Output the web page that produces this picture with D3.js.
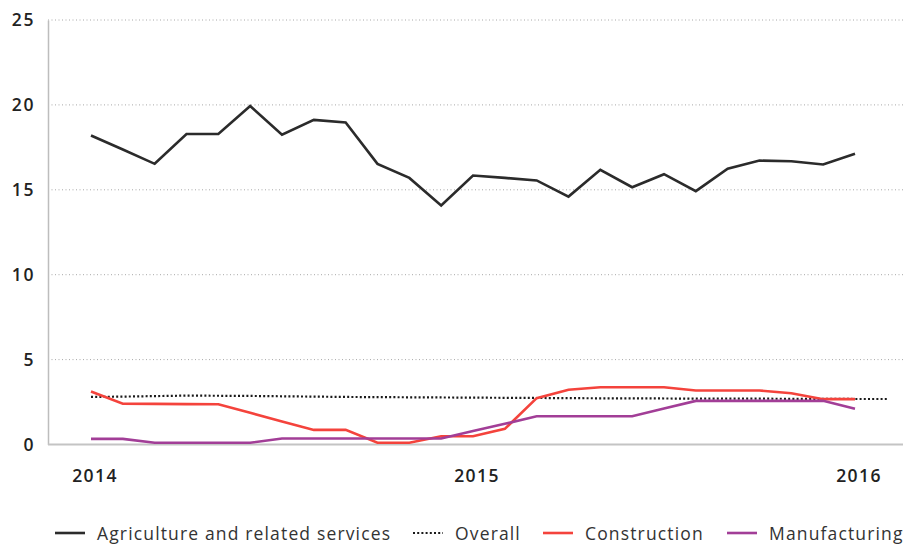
<!DOCTYPE html>
<html>
<head>
<meta charset="utf-8">
<script src="https://cdn.jsdelivr.net/npm/d3@7"></script>
<style>
  body { margin: 0; background: #fff; }
  svg { display: block; font-family: "Open Sans", "Noto Sans", sans-serif; }
</style>
</head>
<body>
<svg id="chart" width="903" height="545"></svg>
<script>
// monthly points, Jan 2014 .. Jan 2016 (index 0..24)
const yearLabels = [
    { k: 0, label: "2014" },
    { k: 12, label: "2015" },
    { k: 24, label: "2016" }
];
const yTicks = [0, 5, 10, 15, 20, 25];

const agriculture = [18.2, 17.37, 16.53, 18.29, 18.29, 19.94, 18.24, 19.12, 18.96, 16.53, 15.7, 14.08,
    15.84, 15.7, 15.55, 14.6, 16.18, 15.15, 15.92, 14.92, 16.24, 16.72, 16.68, 16.49, 17.12];
const overall = [2.8, 2.82, 2.85, 2.88, 2.87, 2.86, 2.84, 2.82, 2.8, 2.79, 2.78, 2.77,
    2.76, 2.75, 2.74, 2.73, 2.72, 2.72, 2.71, 2.7, 2.7, 2.7, 2.69, 2.69, 2.68, 2.68];
const construction = [3.12, 2.4, 2.39, 2.38, 2.37, 1.87, 1.36, 0.86, 0.86, 0.1, 0.1, 0.49,
    0.49, 0.92, 2.73, 3.22, 3.37, 3.37, 3.37, 3.18, 3.18, 3.18, 3.02, 2.67, 2.67];
const manufacturing = [0.33, 0.33, 0.1, 0.1, 0.1, 0.1, 0.35, 0.35, 0.35, 0.35, 0.35, 0.35,
    0.79, 1.22, 1.66, 1.66, 1.66, 1.66, 2.12, 2.57, 2.57, 2.57, 2.57, 2.57, 2.1];

const series = [
    { name: "Agriculture and related services", values: agriculture, color: "#2b2b2b", dash: null },
    { name: "Overall", values: overall, color: "#1a1a1a", dash: "2,2.2" },
    { name: "Construction", values: construction, color: "#f4433c", dash: null },
    { name: "Manufacturing", values: manufacturing, color: "#a23e97", dash: null }
];

const svg = d3.select("#chart");
const plotLeft = 48, plotRight = 903, plotTop = 20, plotBottom = 444.5;

const x = d3.scaleLinear().domain([0, 24]).range([91, 855]);
const y = d3.scaleLinear().domain([0, 25]).range([plotBottom, plotTop]);

// gridlines (dotted)
svg.append("g")
    .selectAll("line")
    .data(yTicks.filter(d => d > 0))
    .join("line")
    .attr("x1", plotLeft).attr("x2", plotRight)
    .attr("y1", d => y(d)).attr("y2", d => y(d))
    .attr("stroke", "#a8a8a8")
    .attr("stroke-width", 1)
    .attr("stroke-dasharray", "1,2.5");

// y axis
const yAxis = svg.append("g")
    .attr("transform", `translate(${plotLeft},0)`)
    .call(d3.axisLeft(y).tickValues(yTicks).tickSize(0).tickPadding(13));
yAxis.select(".domain").attr("stroke", "#bdbdbd").attr("stroke-width", 1.5);
yAxis.selectAll("text")
    .attr("font-size", 17.5).attr("font-weight", 600).attr("fill", "#222")
    .attr("letter-spacing", 1.6)
    .attr("font-family", "'Open Sans', sans-serif");

// bottom line
svg.append("line")
    .attr("x1", plotLeft).attr("x2", plotRight)
    .attr("y1", y(0)).attr("y2", y(0))
    .attr("stroke", "#c4c4c4").attr("stroke-width", 2);

// year labels
svg.append("g")
    .selectAll("text")
    .data(yearLabels)
    .join("text")
    .attr("x", d => x(d.k) + 4)
    .attr("y", 482)
    .attr("text-anchor", "middle")
    .attr("font-size", 17.5).attr("font-weight", 600).attr("fill", "#222")
    .attr("letter-spacing", 1.4)
    .text(d => d.label);

// lines
const line = d3.line()
    .x((d, i) => x(i))
    .y(d => y(d));

svg.append("g")
    .selectAll("path")
    .data(series)
    .join("path")
    .attr("d", d => line(d.values))
    .attr("fill", "none")
    .attr("stroke", d => d.color)
    .attr("stroke-width", d => d.dash ? 2.2 : 2.6)
    .attr("stroke-dasharray", d => d.dash)
    .attr("stroke-linejoin", "miter");

// legend
const legendX = [55, 413, 543, 727];
const legend = svg.append("g")
    .selectAll("g")
    .data(series)
    .join("g")
    .attr("transform", (d, i) => `translate(${legendX[i]},533)`);

legend.append("line")
    .attr("x1", 0).attr("x2", 30)
    .attr("stroke", d => d.color)
    .attr("stroke-width", d => d.dash ? 2.2 : 2.6)
    .attr("stroke-dasharray", d => d.dash);

legend.append("text")
    .attr("x", 42)
    .attr("y", 6.5)
    .attr("font-size", 17.5)
    .attr("letter-spacing", 1.15)
    .attr("fill", "#333")
    .text(d => d.name);
</script>
</body>
</html>
